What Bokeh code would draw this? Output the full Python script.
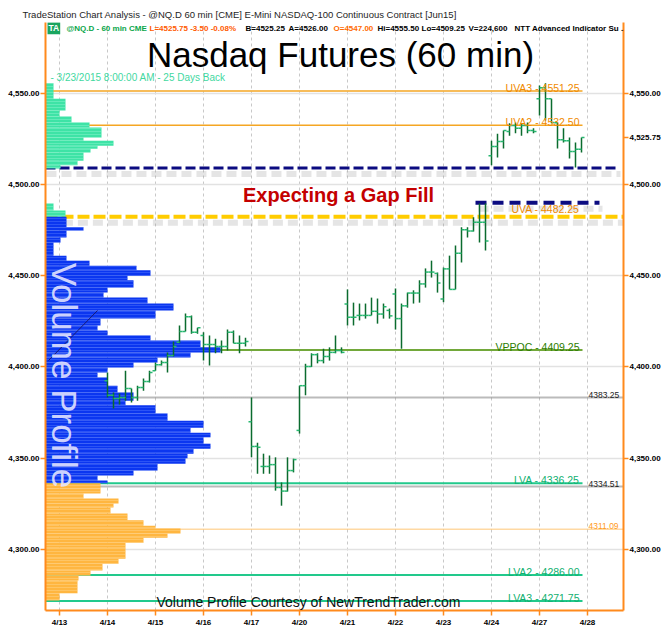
import math
from bokeh.plotting import figure
from bokeh.models import Range1d, LinearAxis, FixedTicker, NumeralTickFormatter, Label, ColumnDataSource
from bokeh.embed import file_html
from bokeh.resources import INLINE

# ---------------- data ----------------
day_labels = ["4/13", "4/14", "4/15", "4/16", "4/17", "4/20", "4/21", "4/22", "4/23", "4/24", "4/27", "4/28"]
price_ticks = [4300, 4350, 4400, 4450, 4500, 4550]
BARS_PER_DAY = 8

bar_slot = list(range(8, 88))
bar_open = [4392.5, 4384.5, 4382.75, 4383.25, 4388.25, 4383.25, 4388.75, 4392.0,
            4398.0, 4401.25, 4402.5, 4406.25, 4413.5, 4419.5, 4427.5, 4419.0,
            4417.25, 4412.25, 4412.25, 4411.25, 4411.25, 4419.0, 4413.0, 4413.0,
            4370.0, 4356.5, 4345.5, 4345.5, 4346.5, 4334.0, 4332.0, 4343.25,
            4365.25, 4389.75, 4400.25, 4406.75, 4403.5, 4405.75, 4408.0, 4409.0,
            4434.5, 4427.25, 4428.25, 4428.25, 4428.25, 4430.5, 4429.0, 4431.0,
            4440.0, 4426.5, 4433.5, 4440.5, 4440.5, 4445.5, 4452.0, 4451.25,
            4437.25, 4453.75, 4442.5, 4462.25, 4475.25, 4474.5, 4479.25, 4479.25,
            4515.75, 4520.75, 4523.5, 4529.0, 4532.25, 4530.75, 4532.25, 4529.5,
            4547.0, 4553.0, 4547.0, 4533.75, 4524.5, 4524.0, 4518.0, 4519.25]
bar_high = [4397.0, 4386.0, 4385.5, 4398.0, 4388.25, 4389.75, 4393.75, 4398.0,
            4402.5, 4403.5, 4408.0, 4414.0, 4422.75, 4429.25, 4428.25, 4421.5,
            4419.0, 4417.25, 4415.5, 4414.5, 4420.5, 4420.0, 4417.25, 4416.0,
            4383.25, 4358.5, 4352.5, 4351.5, 4350.5, 4336.75, 4350.5, 4349.75,
            4389.75, 4401.75, 4407.5, 4407.5, 4410.0, 4410.75, 4417.25, 4410.75,
            4442.5, 4435.25, 4434.75, 4434.75, 4438.0, 4437.5, 4434.75, 4432.0,
            4443.0, 4434.75, 4440.75, 4442.0, 4447.5, 4454.0, 4458.25, 4451.75,
            4454.5, 4461.0, 4466.5, 4476.5, 4476.5, 4482.0, 4489.5, 4489.5,
            4524.0, 4527.75, 4529.5, 4533.5, 4534.0, 4533.5, 4534.0, 4530.75,
            4554.25, 4555.5, 4547.0, 4533.75, 4530.75, 4525.75, 4523.0, 4525.75]
bar_low = [4383.25, 4377.25, 4379.5, 4381.5, 4380.5, 4381.5, 4387.0, 4391.5,
           4398.0, 4400.75, 4397.0, 4405.75, 4413.0, 4419.5, 4418.25, 4418.25,
           4403.5, 4400.75, 4407.5, 4407.5, 4409.0, 4413.0, 4407.5, 4411.25,
           4350.5, 4341.5, 4341.5, 4341.5, 4332.25, 4324.0, 4331.75, 4342.25,
           4363.5, 4384.5, 4400.0, 4402.0, 4402.0, 4403.5, 4407.5, 4407.5,
           4422.75, 4422.75, 4425.5, 4426.5, 4428.25, 4423.75, 4426.5, 4426.5,
           4420.5, 4410.0, 4432.5, 4434.75, 4435.25, 4443.5, 4449.0, 4440.75,
           4435.5, 4442.5, 4442.5, 4457.25, 4471.0, 4474.25, 4468.25, 4463.75,
           4510.5, 4514.75, 4519.75, 4526.75, 4528.0, 4526.75, 4528.0, 4528.0,
           4537.75, 4535.0, 4533.5, 4519.75, 4523.0, 4514.25, 4509.25, 4517.5]
bar_close = [4384.5, 4382.75, 4383.25, 4388.25, 4383.25, 4388.75, 4392.0, 4397.0,
             4401.25, 4402.5, 4406.25, 4411.25, 4419.5, 4427.5, 4419.0, 4421.5,
             4412.25, 4412.25, 4411.25, 4411.25, 4419.0, 4413.0, 4413.0, 4414.0,
             4356.5, 4356.0, 4345.5, 4346.5, 4334.0, 4332.0, 4343.25, 4349.25,
             4389.75, 4400.25, 4406.75, 4403.5, 4405.75, 4408.0, 4409.0, 4408.0,
             4427.25, 4427.25, 4428.25, 4428.25, 4430.5, 4429.0, 4433.0, 4428.0,
             4426.5, 4433.5, 4440.5, 4440.5, 4445.5, 4452.0, 4452.0, 4446.0,
             4453.75, 4442.5, 4462.25, 4475.25, 4474.5, 4479.25, 4479.25, 4469.0,
             4520.75, 4523.5, 4529.5, 4532.25, 4530.75, 4532.25, 4529.5, 4529.0,
             4553.0, 4547.0, 4534.0, 4524.5, 4524.0, 4518.0, 4519.25, 4525.75]

# volume profile rows (price band top / bottom, relative volume)
prof_top = [4555.5, 4547.0, 4540.5, 4537.25, 4534.0, 4531.25, 4525.75, 4524.0, 4521.25, 4519.5,
            4517.5, 4513.0, 4510.5,
            4489.5, 4485.75,
            4482.25, 4476.5, 4474.75, 4471.0, 4468.25, 4461.0, 4458.25, 4455.5, 4453.0, 4450.0,
            4447.5, 4443.5, 4440.75, 4438.0, 4434.75, 4431.0, 4426.5, 4422.75, 4420.0, 4417.25,
            4414.5, 4410.75, 4408.0, 4405.25, 4402.5, 4399.75, 4397.0, 4394.25, 4389.75, 4386.0,
            4381.5, 4379.0, 4374.5, 4370.5, 4366.75, 4364.0, 4361.5, 4358.0, 4355.25, 4352.5,
            4350.0, 4347.0, 4343.25, 4340.5, 4337.75,
            4336.25, 4333.5, 4330.75, 4328.0, 4325.25, 4323.0, 4319.75, 4316.0, 4313.0, 4311.5,
            4308.75, 4306.5, 4303.75, 4301.0, 4295.0, 4292.25, 4288.5, 4285.75, 4283.0, 4276.0]
prof_bot = [4547.0, 4540.5, 4537.25, 4534.0, 4531.25, 4525.75, 4524.0, 4521.25, 4519.5, 4517.5,
            4513.0, 4510.5, 4508.75,
            4485.75, 4482.25,
            4476.5, 4474.75, 4471.0, 4468.25, 4461.0, 4458.25, 4455.5, 4453.0, 4450.0, 4447.5,
            4443.5, 4440.75, 4438.0, 4434.75, 4431.0, 4426.5, 4422.75, 4420.0, 4417.25, 4414.5,
            4410.75, 4408.0, 4405.25, 4402.5, 4399.75, 4397.0, 4394.25, 4389.75, 4386.0, 4381.5,
            4379.0, 4374.5, 4370.5, 4366.75, 4364.0, 4361.5, 4358.0, 4355.25, 4352.5, 4350.0,
            4347.0, 4343.25, 4340.5, 4337.75, 4336.25,
            4333.5, 4330.75, 4328.0, 4325.25, 4323.0, 4319.75, 4316.0, 4313.0, 4311.5, 4308.75,
            4306.5, 4303.75, 4301.0, 4295.0, 4292.25, 4288.5, 4285.75, 4283.0, 4276.0, 4272.0]
prof_vol = [8, 20, 14, 26, 44, 56, 38, 68, 52, 45,
            38, 32, 15,
            8, 20,
            21, 38, 21, 15, 8, 21, 44, 91, 105, 82,
            88, 62, 58, 102, 128, 110, 55, 52, 62, 105,
            155, 175, 145, 112, 88, 62, 52, 62, 72, 88,
            80, 110, 122, 158, 145, 165, 158, 165, 148, 142,
            140, 112, 88, 52, 62,
            55, 55, 38, 73, 68, 65, 82, 98, 110, 135,
            122, 98, 80, 80, 73, 57, 45, 33, 32, 14]

level_names = ["UVA3", "UVA2", "UVA", "VPPOC", "LVA", "LVA2", "LVA3"]
level_values = [4551.25, 4532.50, 4482.25, 4409.25, 4336.25, 4286.00, 4271.75]
pivot_values = [4383.25, 4334.51, 4311.09]
gap_low = 4509.0
gap_high = 4490.0
last_price = 4525.75

# ---------------- geometry helpers (reference pixels -> data) ----------------
PX_PER_DAY = 48.0
PX_PER_PT = 1.8252
DAY0_PX = 59.0
REF_PRICE, REF_PY = 4550.0, 92.7


def rx(px):
    return (px - DAY0_PX) / PX_PER_DAY


def ry(py):
    return REF_PRICE - (py - REF_PY) / PX_PER_PT


XL, XR = rx(45), rx(623)
YB, YT = ry(610), ry(22)
LEVEL_END = rx(582)
VOL_UNIT = 1.0 / PX_PER_DAY
UP3 = 3.0 / PX_PER_PT

ORANGE_AX = "#ff8a1c"
p = figure(width=668, height=642, x_range=Range1d(XL, XR), y_range=Range1d(YB, YT),
           output_backend="svg", toolbar_location=None,
           min_border_left=45, min_border_right=45, min_border_top=22, min_border_bottom=32,
           background_fill_color="white", border_fill_color="white")
p.outline_line_color = None

# window title bar text
p.title.text = "TradeStation Chart Analysis - @NQ.D 60 min [CME] E-Mini NASDAQ-100 Continuous Contract [Jun15]"
p.title.text_font = "Liberation Sans"
p.title.text_font_size = "9.5px"
p.title.text_font_style = "normal"
p.title.text_color = "#1e1e1e"
p.title.align = "left"
p.title.offset = -23
p.title.standoff = 5


def style_axis(ax):
    ax.axis_line_color = ORANGE_AX
    ax.axis_line_width = 2
    ax.major_tick_line_color = ORANGE_AX
    ax.major_tick_line_width = 1.5
    ax.major_tick_out = 5
    ax.major_tick_in = 0
    ax.minor_tick_line_color = None
    ax.major_label_text_font = "Liberation Sans"
    ax.major_label_text_font_style = "bold"
    ax.major_label_text_font_size = "8px"
    ax.major_label_text_color = "#000000"
    ax.major_label_standoff = 1


p.yaxis.ticker = FixedTicker(ticks=price_ticks)
p.yaxis.formatter = NumeralTickFormatter(format="0,0.00")
style_axis(p.yaxis[0])
# right price scale also carries the last-price marker
ra = LinearAxis(ticker=FixedTicker(ticks=price_ticks + [last_price]),
                formatter=NumeralTickFormatter(format="0,0.00"))
style_axis(ra)
p.add_layout(ra, "right")

p.xaxis.ticker = FixedTicker(ticks=list(range(len(day_labels))))
p.xaxis.major_label_overrides = {i: d for i, d in enumerate(day_labels)}
style_axis(p.xaxis[0])
p.xaxis.major_label_standoff = 2

p.xgrid.ticker = FixedTicker(ticks=list(range(len(day_labels))))
p.xgrid.grid_line_color = "#c8c8c8"
p.xgrid.grid_line_dash = "3 3"
p.xgrid.grid_line_width = 1
p.ygrid.ticker = FixedTicker(ticks=price_ticks)
p.ygrid.grid_line_color = "#e2e2e2"
p.ygrid.grid_line_width = 1.5

# ---------------- level lines ----------------
solid_lv = [0, 1, 3, 4, 5, 6]
lv_colors = {0: "#f5a623", 1: "#f5a623", 3: "#72a83a", 4: "#22c98c", 5: "#22c98c", 6: "#22c98c"}
p.segment(x0=[XL] * len(solid_lv), x1=[LEVEL_END] * len(solid_lv),
          y0=[level_values[i] for i in solid_lv], y1=[level_values[i] for i in solid_lv],
          line_color=[lv_colors[i] for i in solid_lv],
          line_width=[1.5, 1.5, 2, 2, 2, 2])
p.segment(x0=[XL, XL], x1=[XR, XR], y0=pivot_values[:2], y1=pivot_values[:2],
          line_color="#777777", line_width=2, line_dash="1 1")
p.segment(x0=[XL], x1=[XR], y0=pivot_values[2:], y1=pivot_values[2:],
          line_color="#ffb347", line_width=1.5, line_dash="1 1")

SH = 6.0 / PX_PER_PT
p.segment(x0=[XL + 0.02, rx(478), XL + 0.05], x1=[rx(620), rx(602), XR],
          y0=[gap_low - SH, gap_high - SH, level_values[2] - SH],
          y1=[gap_low - SH, gap_high - SH, level_values[2] - SH],
          line_color="#999999", line_alpha=0.25, line_width=6, line_dash="10 5")
p.segment(x0=[XL], x1=[XR], y0=[level_values[2]], y1=[level_values[2]],
          line_color="#ffcc00", line_width=4, line_dash="12 4")
p.segment(x0=[XL], x1=[rx(618)], y0=[gap_low], y1=[gap_low],
          line_color="#0b0b80", line_width=3, line_dash="10 4")
p.segment(x0=[rx(475)], x1=[rx(599)], y0=[gap_high], y1=[gap_high],
          line_color="#0b0b80", line_width=4, line_dash="11 6")

# ---------------- volume profile ----------------
UVA_V, LVA_V = level_values[2], level_values[4]
fills, hatches = [], []
for b in prof_bot:
    if b >= UVA_V - 0.01:
        fills.append("#3ee3a6"); hatches.append("#98f7d4")
    elif b >= LVA_V - 0.01:
        fills.append("#0b36f0"); hatches.append("#5a80ff")
    else:
        fills.append("#ffb640"); hatches.append("#ffdc9a")
psrc = ColumnDataSource(dict(top=prof_top, bottom=prof_bot,
                             left=[XL] * len(prof_vol),
                             right=[XL + v * VOL_UNIT for v in prof_vol],
                             fill=fills, hatch=hatches))
p.quad(left="left", right="right", top="top", bottom="bottom", source=psrc,
       fill_color="fill", line_color=None, hatch_pattern="horizontal_line",
       hatch_color="hatch", hatch_scale=3, hatch_weight=0.8, hatch_alpha=0.5)

# ---------------- price bars ----------------
TICK = 3.0 / PX_PER_DAY
bx = [k / BARS_PER_DAY for k in bar_slot]
bsrc = ColumnDataSource(dict(x=bx, xl=[v - TICK for v in bx], xr=[v + TICK for v in bx],
                             o=bar_open, h=bar_high, l=bar_low, c=bar_close))
p.segment(x0="x", x1="x", y0="l", y1="h", source=bsrc, line_color="#0b6b2e", line_width=1.5)
p.segment(x0="xl", x1="x", y0="o", y1="o", source=bsrc, line_color="#27b870", line_width=1.5)
p.segment(x0="x", x1="xr", y0="c", y1="c", source=bsrc, line_color="#27b870", line_width=1.5)

p.segment(x0=[rx(48)], y0=[ry(360)], x1=[rx(97)], y1=[ry(310)], line_color="#1a1a70", line_width=1)


# ---------------- texts ----------------
def lab(text, x, y, size, color, align="left", baseline="middle", style="normal",
        font="Liberation Sans", **kw):
    p.add_layout(Label(x=x, y=y, text=text, text_font_size=f"{size}px", text_color=color,
                       text_align=align, text_baseline=baseline, text_font_style=style,
                       text_font=font, **kw))


# info line
INFO_Y = ry(27.7)
lab("TA", rx(47), INFO_Y, 8.5, "#ffffff", style="bold", background_fill_color="#19a55f", padding=1)
info = [("@NQ.D - 60 min  CME", 66, "#0aa64a"), ("L=4525.75  -3.50  -0.08%", 149, "#ff5a00"),
        ("B=4525.25", 245, "#000000"), ("A=4526.00", 288, "#000000"),
        ("O=4547.00", 333, "#ff6a00"), ("Hi=4555.50", 377, "#000000"),
        ("Lo=4509.25", 421, "#000000"), ("V=224,600", 468, "#000000"),
        ("NTT Advanced Indicator Su ...", 514, "#000000")]
for t, px, col in info:
    lab(t, rx(px), INFO_Y, 8, col, style="bold")

lab("Nasdaq Futures (60 min)", rx(340), ry(54), 35, "#000000", align="center", baseline="middle")
lab("- 3/23/2015 8:00:00 AM - 25 Days Back", rx(50), ry(77), 10, "#3fd89f")

lv_text_col = ["#f08a00", "#f08a00", "#f08a00", "#2d7d00", "#10b070", "#10b070", "#10b070"]
for i, (n, v) in enumerate(zip(level_names, level_values)):
    ytxt = v + UP3 + (5.0 / PX_PER_PT if i == 2 else 0)
    lab(f"{n} - {v:.2f}", rx(579), ytxt, 10.5, lv_text_col[i], align="right", baseline="alphabetic")
piv_col = ["#222222", "#222222", "#ff9a1a"]
for v, col in zip(pivot_values, piv_col):
    lab(f"{v:.2f}", rx(588), v + UP3, 8.5, col, baseline="alphabetic")

lab("Expecting a Gap Fill", rx(338), ry(194), 20, "#c40000", align="center", style="bold")
lab("Volume Profile", rx(64), ry(375), 35, "#e6e6ff", align="center", angle=-math.pi / 2,
    text_alpha=0.9)
lab("Volume Profile Courtesy of NewTrendTrader.com", rx(308), ry(601), 14, "#111111", align="center")

open("out.html", "w").write(file_html(p, INLINE))
